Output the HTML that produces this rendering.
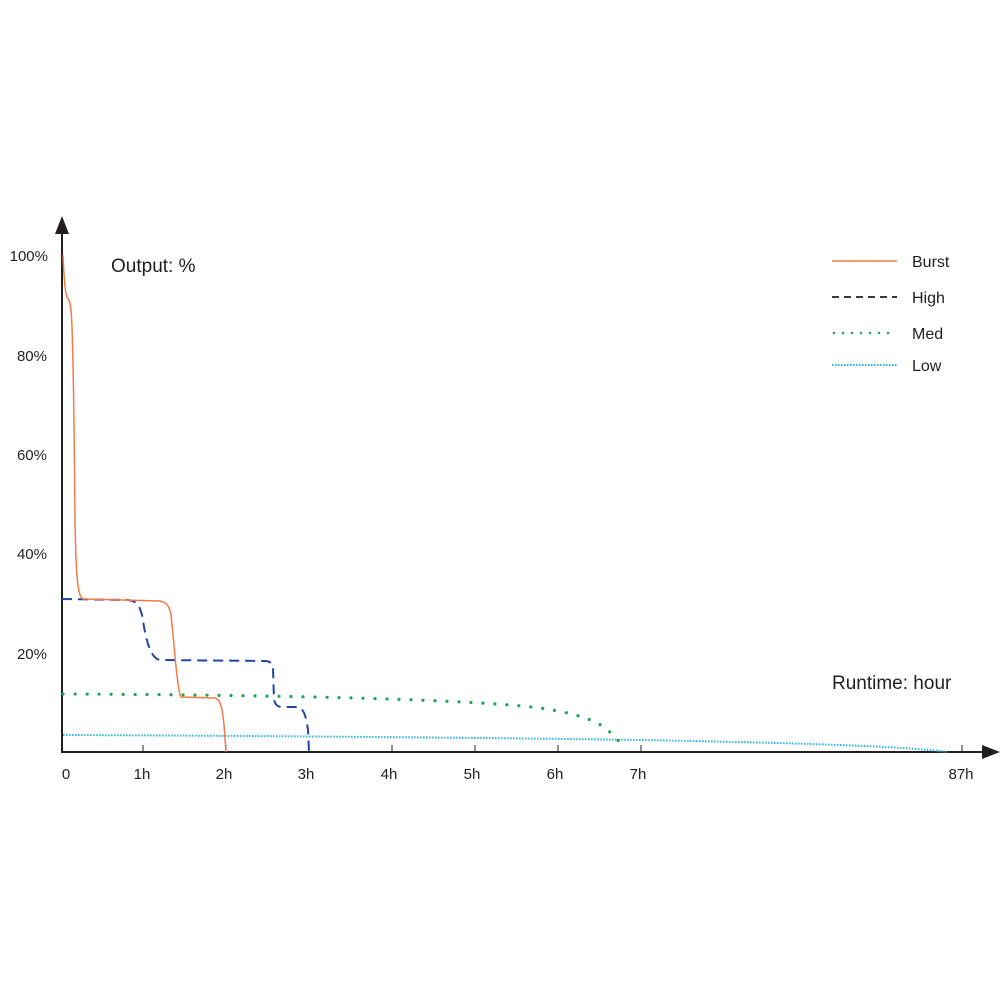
<!DOCTYPE html>
<html><head><meta charset="utf-8"><style>
html,body{margin:0;padding:0;background:#fff;}
svg{display:block;}
text{font-family:"Liberation Sans",sans-serif;fill:#231f20;}
</style></head><body>
<svg width="1000" height="1000" viewBox="0 0 1000 1000">
<line x1="62" y1="752" x2="62" y2="232" stroke="#231f20" stroke-width="2"/>
<polygon points="62,216 55,234 69,234" fill="#231f20"/>
<line x1="61" y1="752" x2="984" y2="752" stroke="#231f20" stroke-width="2"/>
<polygon points="1000,752 982,745 982,759" fill="#231f20"/>
<g stroke="#231f20" stroke-width="1">
<line x1="143" y1="752" x2="143" y2="745"/><line x1="226" y1="752" x2="226" y2="745"/>
<line x1="309" y1="752" x2="309" y2="745"/><line x1="392" y1="752" x2="392" y2="745"/>
<line x1="475" y1="752" x2="475" y2="745"/><line x1="558" y1="752" x2="558" y2="745"/>
<line x1="641" y1="752" x2="641" y2="745"/><line x1="962" y1="752" x2="962" y2="745"/>
</g>
<g font-size="15" text-anchor="middle">
<text x="66" y="779">0</text><text x="142" y="779">1h</text><text x="224" y="779">2h</text>
<text x="306" y="779">3h</text><text x="389" y="779">4h</text><text x="472" y="779">5h</text>
<text x="555" y="779">6h</text><text x="638" y="779">7h</text><text x="961" y="779">87h</text>
</g>
<g font-size="15" text-anchor="end">
<text x="48" y="261">100%</text><text x="47" y="361">80%</text><text x="47" y="460">60%</text>
<text x="47" y="559">40%</text><text x="47" y="659">20%</text>
</g>
<text x="111" y="272" font-size="19">Output: %</text>
<text x="832" y="689" font-size="19">Runtime: hour</text>
<line x1="832" y1="261" x2="897" y2="261" stroke="#f47a45" stroke-width="1.5"/>
<text x="912" y="267" font-size="16">Burst</text>
<line x1="832" y1="297" x2="897" y2="297" stroke="#3a3a3a" stroke-width="2" stroke-dasharray="7,5"/>
<text x="912" y="303" font-size="16">High</text>
<line x1="834" y1="333" x2="897" y2="333" stroke="#1aa84f" stroke-width="2.5" stroke-linecap="round" stroke-dasharray="0,9"/>
<text x="912" y="339" font-size="16">Med</text>
<line x1="832" y1="365" x2="897" y2="365" stroke="#29b6e8" stroke-width="2" stroke-dasharray="1.5,1.5"/>
<text x="912" y="371" font-size="16">Low</text>
<path d="M63,735 C300,736 500,738 641,740 C800,743 900,746 948,752" fill="none" stroke="#29b6e8" stroke-width="2" stroke-dasharray="1.5,1.5"/>
<path d="M63,694 C300,695 480,700 540,708 C575,713 595,720 605,728 C614,735 620,742 622,746" fill="none" stroke="#1aa84f" stroke-width="3.2" stroke-linecap="round" stroke-dasharray="0,12"/>
<path d="M62,599 L128,600 C136,601 139,604 142,615 C146,640 150,658 160,660 L266,661 C271,662 272,663 273,668 L274,700 C276,706 278,707 283,707 L298,707 C304,709 306,716 308,730 L309,752" fill="none" stroke="#2146a8" stroke-width="2" stroke-dasharray="10,6"/>
<path d="M63,255 C64,280 65,292 67,297 C69,300 70,302 71,310 C73,330 74,400 75,520 C76,580 78,597 83,599 L160,601 C167,603 169,605 171,615 C174,640 177,690 181,697 L215,698 C220,699 222,705 224,725 L226,752" fill="none" stroke="#f47a45" stroke-width="1.5"/>
</svg>
</body></html>
